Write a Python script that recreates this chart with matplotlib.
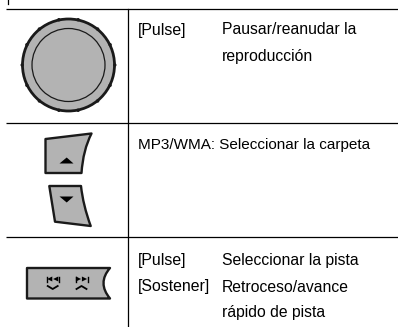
import matplotlib
matplotlib.use("Agg")
import matplotlib.pyplot as plt
import numpy as np
from matplotlib.patches import Circle, PathPatch, Polygon
from matplotlib.path import Path

FONT = 'Liberation Sans'

col1 = ["[Pulse]", "[Pulse]", "[Sostener]"]
col1_y = [30, 261, 287]
col2 = ["Pausar/reanudar la", "reproducción", "Seleccionar la pista", "Retroceso/avance", "rápido de pista"]
col2_y = [30, 57, 261, 287, 313]
wide = "MP3/WMA: Seleccionar la carpeta"
wide_y = 145
knob_bumps = [0, 26, 51, 78, 102, 129, 154, 180, 206, 231, 258, 282, 309, 334]

GREY = '#b3b3b3'
INK = '#1a1a1a'
fig = plt.figure(figsize=(3.98, 3.27), dpi=100)
ax = fig.add_axes([0, 0, 1, 1])
ax.set_xlim(0, 398)
ax.set_ylim(327, 0)
ax.axis('off')

for y in [8.5, 122.5, 237]:
    ax.plot([6, 398], [y, y], color='black', lw=0.9, solid_capstyle='butt')
ax.plot([127.5, 127.5], [8.5, 327], color='black', lw=0.9)
ax.plot([8, 8], [0, 3.5], color='black', lw=0.9)

# knob
ax.add_patch(Circle((68.5, 65), 46, fc=GREY, ec=INK, lw=2.0))
ax.add_patch(Circle((68.5, 65), 36.5, fc=GREY, ec=INK, lw=0.9))
for a in knob_bumps:
    t = np.radians(a)
    ax.add_patch(Circle((68.5 + 46.3 * np.cos(t), 65 - 46.3 * np.sin(t)), 1.7, fc=INK, ec='none'))

# up button
C = Path.CURVE3
up = Path([(45.5, 139), (91.5, 133.5), (83, 150), (81.5, 173), (45.5, 173), (45.5, 139)],
          [Path.MOVETO, Path.LINETO, C, C, Path.LINETO, Path.CLOSEPOLY])
ax.add_patch(PathPatch(up, fc=GREY, ec=INK, lw=1.7, joinstyle='round'))
ax.add_patch(Polygon([(66.7, 157.5), (59.5, 163.5), (73.5, 163.5)], fc='black', ec='none'))
# down button
dn = Path([(49.3, 186), (81, 186), (83, 205), (90.7, 226), (55, 221.7), (49.3, 186)],
          [Path.MOVETO, Path.LINETO, C, C, Path.LINETO, Path.CLOSEPOLY])
ax.add_patch(PathPatch(dn, fc=GREY, ec=INK, lw=1.7, joinstyle='round'))
ax.add_patch(Polygon([(59.5, 196.5), (73.5, 196.5), (66.7, 202.5)], fc='black', ec='none'))
# track button
tr = Path([(27, 268), (110, 268), (97, 283), (110, 298.5), (27, 298.5), (27, 268)],
          [Path.MOVETO, Path.LINETO, C, C, Path.LINETO, Path.CLOSEPOLY])
ax.add_patch(PathPatch(tr, fc=GREY, ec=INK, lw=1.7, joinstyle='round'))
for cx, sgn in [(52.7, -1), (81.5, 1)]:
    ax.plot([cx - 6, cx - 6], [276.5, 281.5], color='black', lw=1.0)
    ax.plot([cx + 6, cx + 6], [276.5, 281.5], color='black', lw=1.0)
    for dx in (-3, 3):
        x0 = cx + dx
        ax.add_patch(Polygon([(x0 + sgn * 2.6, 279), (x0 - sgn * 2.6, 276.5), (x0 - sgn * 2.6, 281.5)], fc='black', ec='none'))
    v = 3 if sgn < 0 else -3
    ax.plot([cx - 5, cx, cx + 5], [287.5 - v / 2, 287.5 + v / 2, 287.5 - v / 2], color='black', lw=1.3)

for s, y in zip(col1, col1_y):
    ax.text(138, y, s, family=FONT, fontsize=11.4, va='center', color='black')
for s, y in zip(col2, col2_y):
    ax.text(222, y, s, family=FONT, fontsize=11.3, va='center', color='black')
ax.text(138, wide_y, wide, family=FONT, fontsize=11.0, va='center', color='black')

fig.savefig('out.png', dpi=100)
